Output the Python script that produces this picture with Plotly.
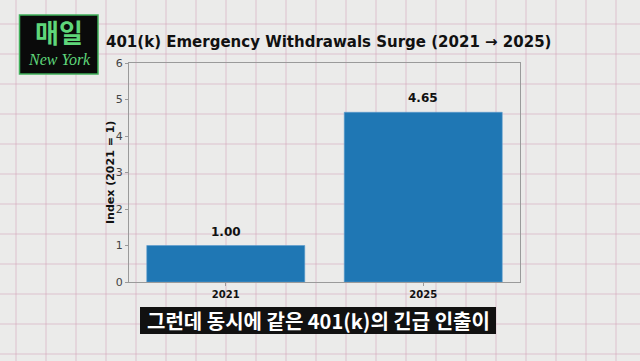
import plotly.graph_objects as go

categories = ["2021", "2025"]
values = [1.00, 4.65]
value_labels = ["1.00", "4.65"]
y_ticks = [0, 1, 2, 3, 4, 5, 6]

title = "401(k) Emergency Withdrawals Surge (2021 → 2025)"
y_title = "Index (2021 = 1)"
caption = "그런데 동시에 같은 401(k)의 긴급 인출이"

W, H = 640, 361
L, R, T, B = 129, 120, 63, 79
PW, PH = W - L - R, H - T - B

def px(x):
    return (x - L) / PW

def py(y):
    return (H - B - y) / PH

fig = go.Figure()
fig.add_trace(go.Bar(
    x=[0, 1], y=values, width=0.8,
    marker=dict(color="#1f77b4", line=dict(color="#5a9bcc", width=0.6)),
    hoverinfo="skip",
))

shapes = []
grid_col = "rgba(214,160,182,0.55)"
for k in range(22):
    x = 16 + 30 * k
    shapes.append(dict(type="line", xref="paper", yref="paper", x0=px(x), x1=px(x),
                       y0=py(0), y1=py(H), line=dict(color=grid_col, width=1), layer="below"))
for k in range(12):
    y = 24 + 30 * k
    shapes.append(dict(type="line", xref="paper", yref="paper", x0=px(0), x1=px(W),
                       y0=py(y), y1=py(y), line=dict(color=grid_col, width=1), layer="below"))
# logo box
shapes.append(dict(type="rect", xref="paper", yref="paper", x0=px(19.5), x1=px(98),
                   y0=py(74), y1=py(15), fillcolor="#0a0a0a",
                   line=dict(color="#3fb05a", width=1.5), layer="above"))
# caption box
shapes.append(dict(type="rect", xref="paper", yref="paper", x0=px(140), x1=px(496),
                   y0=py(334), y1=py(307), fillcolor="#111111",
                   line=dict(width=0), layer="above"))

annotations = [
    dict(text="<b>" + title + "</b>", xref="paper", yref="paper", x=px(104), y=py(42),
         xanchor="left", yanchor="middle", showarrow=False,
         font=dict(family="DejaVu Sans", size=15, color="#111111")),
    dict(text="<b>매일</b>", xref="paper", yref="paper", x=px(59), y=py(32),
         xanchor="center", yanchor="middle", showarrow=False,
         font=dict(family="Noto Sans CJK KR", size=26, color="#5fd67a")),
    dict(text="<i>New York</i>", xref="paper", yref="paper", x=px(59), y=py(59),
         xanchor="center", yanchor="middle", showarrow=False,
         font=dict(family="Liberation Serif", size=16, color="#5fd67a")),
    dict(text="<b>" + caption + "</b>", xref="paper", yref="paper", x=px(318), y=py(320.5),
         xanchor="center", yanchor="middle", showarrow=False,
         font=dict(family="Noto Sans CJK KR", size=20, color="#ffffff")),
    dict(text="<b>" + y_title + "</b>", xref="paper", yref="paper", x=px(110.5), y=0.5,
         xanchor="center", yanchor="middle", showarrow=False, textangle=-90,
         font=dict(family="DejaVu Sans", size=11, color="#111111")),
]
for i, (v, lab) in enumerate(zip(values, value_labels)):
    annotations.append(dict(text="<b>" + lab + "</b>", x=i, y=v, xref="x", yref="y",
                            xanchor="center", yanchor="bottom", yshift=5, showarrow=False,
                            font=dict(family="DejaVu Sans", size=12, color="#111111")))

fig.update_layout(
    width=W, height=H,
    margin=dict(l=L, r=R, t=T, b=B, pad=0),
    paper_bgcolor="#ebebea", plot_bgcolor="rgba(0,0,0,0)",
    showlegend=False,
    shapes=shapes, annotations=annotations,
    xaxis=dict(range=[-0.49, 1.49], tickvals=[0, 1],
               ticktext=["<b>" + c + "</b>" for c in categories],
               tickfont=dict(family="DejaVu Sans", size=10, color="#111111"),
               showgrid=False, zeroline=False, showline=True, mirror=True,
               linecolor="#9a9a9a", linewidth=1, ticks="outside", ticklen=3,
               tickcolor="#9a9a9a"),
    yaxis=dict(range=[0, 6], tickvals=y_ticks,
               tickfont=dict(family="DejaVu Sans", size=11, color="#444444"),
               showgrid=False, zeroline=False, showline=True, mirror=True,
               linecolor="#9a9a9a", linewidth=1, ticks="outside", ticklen=3,
               tickcolor="#9a9a9a"),
)

fig.write_html("out.html", config={"displayModeBar": False},
               post_script="document.body.style.margin='0';")
